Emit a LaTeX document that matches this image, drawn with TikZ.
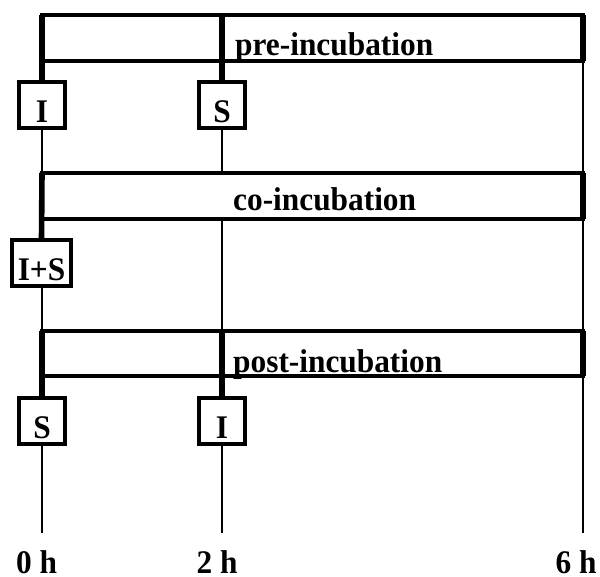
\documentclass[tikz,border=0pt]{standalone}
\usepackage{fontspec}
\usepackage{graphicx}
\setmainfont{Liberation Serif}
\usetikzlibrary{backgrounds}
\newcommand{\tallbf}[1]{\scalebox{0.95}[1.0]{\fontsize{33pt}{34pt}\selectfont\bfseries #1}}
\tikzset{
  bar/.style={draw, fill=white, line width=4pt, inner sep=0pt, outer sep=0pt},
  smallbox/.style={draw, fill=white, line width=4pt, inner sep=0pt, outer sep=0pt,
    minimum height=46pt, minimum width=46pt, text height=35pt, text depth=0pt},
  thickline/.style={line width=5.6pt},
  thinline/.style={line width=2.1pt},
  barlabel/.style={anchor=base west, inner sep=0pt},
  timelabel/.style={anchor=base, inner sep=0pt}
}
\begin{document}
\begin{tikzpicture}[x=1pt,y=-1pt]
\useasboundingbox (0,0) rectangle (600,576);
% bars
\node[bar, minimum width=541pt, minimum height=45.5pt] (pre) at (312.5,37.75) {};
\node[bar, minimum width=541pt, minimum height=46pt] (co) at (312.5,196) {};
\node[bar, minimum width=541pt, minimum height=45pt] (post) at (312.5,353.5) {};
% boxes
\node[smallbox] (preI) at (42,105) {\tallbf{I}};
\node[smallbox] (preS) at (222,105) {\tallbf{S}};
\node[smallbox, minimum width=59pt] (coIS) at (41.5,263) {\tallbf{I+S}};
\node[smallbox] (postS) at (42,420.5) {\tallbf{S}};
\node[smallbox] (postI) at (222,420.5) {\tallbf{I}};
% bottom ends of time lines
\coordinate (b0) at (42,533);
\coordinate (b2) at (222,533);
\coordinate (b6) at (583,533);
\coordinate (preTwo) at (222,15);
\coordinate (postTwo) at (222,331);
% thin time lines behind everything
\begin{pgfonlayer}{background}
\draw[thinline] (preI.south) -- (b0);
\draw[thinline] (preS.south) -- (b2);
\draw[thinline] (pre.south east) -- (b6);
\end{pgfonlayer}
% thick edges and connectors
\draw[thickline] (pre.north west) -- (preI.north);
\draw[thickline] (pre.north east) -- (pre.south east);
\draw[thickline] (preTwo) -- (preS.north);
\draw[thickline] (co.north west) -- (coIS.north);
\draw[thickline] (co.north east) -- (co.south east);
\draw[thickline] (post.north west) -- (postS.north);
\draw[thickline] (post.north east) -- (post.south east);
\draw[thickline] (postTwo) -- (postI.north);
% bar labels
\node[barlabel] (lpre) at (235,55) {\tallbf{pre-incubation}};
\node[barlabel] (lco) at (233,210) {\tallbf{co-incubation}};
\node[barlabel] (lpost) at (233,372) {\tallbf{post-incubation}};
% time labels
\node[timelabel] (t0) at (36.5,573) {\tallbf{0 h}};
\node[timelabel] (t2) at (217,573) {\tallbf{2 h}};
\node[timelabel] (t6) at (576,573) {\tallbf{6 h}};
\end{tikzpicture}
\end{document}
